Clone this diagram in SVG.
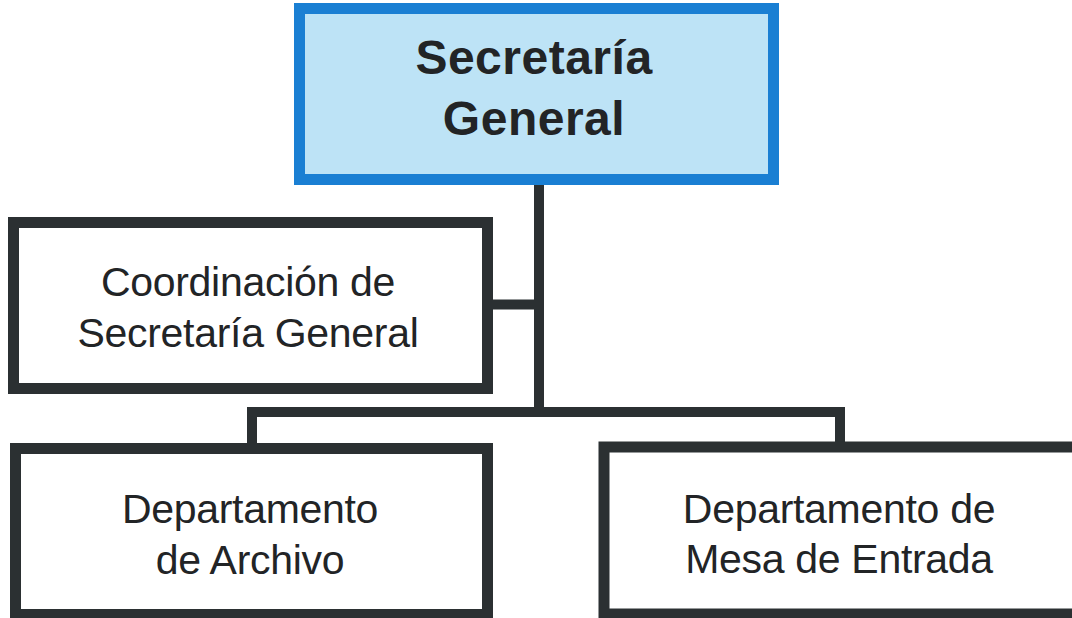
<svg xmlns="http://www.w3.org/2000/svg" width="1072" height="618" viewBox="0 0 1072 618">
<style>
.box{fill:#ffffff;stroke:#2b3032;stroke-width:11}
.top{fill:#bde3f6;stroke:#1a7fd3;stroke-width:11}
.conn{fill:none;stroke:#2b3032;stroke-width:10;stroke-linecap:butt}
.t{font-family:"Liberation Sans",Arial,Helvetica,sans-serif;fill:#222426;text-anchor:middle}
.tb{font-size:48px;font-weight:bold;letter-spacing:0.5px}
.tr{font-size:41px;letter-spacing:-0.3px}
</style>
<rect width="1072" height="618" fill="#ffffff"/>
<g id="connectors">
<path class="conn" d="M539 180 V417"/>
<path class="conn" d="M488 304.5 H539"/>
<path class="conn" d="M247 412 H845"/>
<path class="conn" d="M252 412 V448"/>
<path class="conn" d="M840 412 V448"/>
</g>
<g id="secretaria-general">
<rect class="top" x="299.5" y="8.5" width="474" height="171"/>
<text class="t tb" x="534" y="74">Secretaría</text>
<text class="t tb" x="534" y="135">General</text>
</g>
<g id="coordinacion">
<rect class="box" x="13.5" y="222.5" width="474" height="166"/>
<text class="t tr" x="248" y="296">Coordinación de</text>
<text class="t tr" x="248" y="347">Secretaría General</text>
</g>
<g id="archivo">
<rect class="box" x="15.5" y="448.5" width="472" height="166"/>
<text class="t tr" x="250" y="523">Departamento</text>
<text class="t tr" x="250" y="574">de Archivo</text>
</g>
<g id="mesa-entrada">
<rect class="box" x="604" y="447" width="480" height="167"/>
<text class="t tr" x="839" y="523">Departamento de</text>
<text class="t tr" x="839" y="573">Mesa de Entrada</text>
</g>
</svg>
